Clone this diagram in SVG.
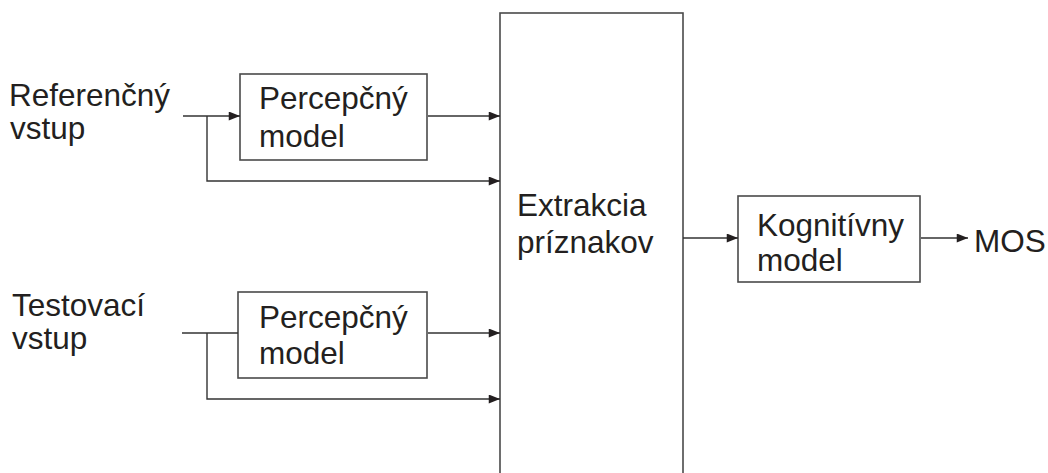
<svg xmlns="http://www.w3.org/2000/svg" width="1048" height="473" viewBox="0 0 1048 473">
  <defs>
    <style>
      .box { fill: #ffffff; stroke: #4a4a4a; stroke-width: 1.6; }
      .wire { fill: none; stroke: #333333; stroke-width: 1.4; }
      .lbl { font-family: "Liberation Sans", Arial, sans-serif; font-size: 31.5px; fill: #231f20; }
    </style>
    <marker id="arr" viewBox="0 0 10 8" refX="10" refY="4" markerWidth="12" markerHeight="9" markerUnits="userSpaceOnUse" orient="auto">
      <path d="M0,0 L10,4 L0,8 Z" fill="#231f20"/>
    </marker>
  </defs>
  <rect width="1048" height="473" fill="#ffffff"/>

  <!-- input labels -->
  <g id="ref-input">
    <text class="lbl" x="9" y="106">Referenčný</text>
    <text class="lbl" x="10" y="139">vstup</text>
  </g>
  <g id="test-input">
    <text class="lbl" x="12" y="316">Testovací</text>
    <text class="lbl" x="12" y="349">vstup</text>
  </g>

  <!-- perceptual models -->
  <g id="percep-ref">
    <rect class="box" x="240" y="74" width="187" height="86"/>
    <text class="lbl" x="259" y="109">Percepčný</text>
    <text class="lbl" x="259" y="147">model</text>
  </g>
  <g id="percep-test">
    <rect class="box" x="238" y="292" width="189" height="86"/>
    <text class="lbl" x="259" y="328">Percepčný</text>
    <text class="lbl" x="259" y="364">model</text>
  </g>

  <!-- feature extraction -->
  <g id="extraction">
    <rect class="box" x="500" y="13" width="183" height="470"/>
    <text class="lbl" x="517" y="216">Extrakcia</text>
    <text class="lbl" x="517" y="253">príznakov</text>
  </g>

  <!-- cognitive model -->
  <g id="cognitive">
    <rect class="box" x="738" y="196" width="182" height="86"/>
    <text class="lbl" x="757" y="236">Kognitívny</text>
    <text class="lbl" x="757" y="271">model</text>
  </g>

  <g id="mos">
    <text class="lbl" x="974" y="252">MOS</text>
  </g>

  <!-- connectors -->
  <g id="connectors">
    <line class="wire" x1="183" y1="116" x2="240" y2="116" marker-end="url(#arr)"/>
    <polyline class="wire" points="207,116 207,181 500,181" marker-end="url(#arr)"/>
    <line class="wire" x1="428" y1="116" x2="500" y2="116" marker-end="url(#arr)"/>

    <line class="wire" x1="182" y1="333" x2="238" y2="333"/>
    <polyline class="wire" points="207,333 207,399 500,399" marker-end="url(#arr)"/>
    <line class="wire" x1="428" y1="333" x2="500" y2="333" marker-end="url(#arr)"/>

    <line class="wire" x1="683" y1="238" x2="738" y2="238" marker-end="url(#arr)"/>
    <line class="wire" x1="921" y1="238" x2="968" y2="238" marker-end="url(#arr)"/>
  </g>
</svg>
